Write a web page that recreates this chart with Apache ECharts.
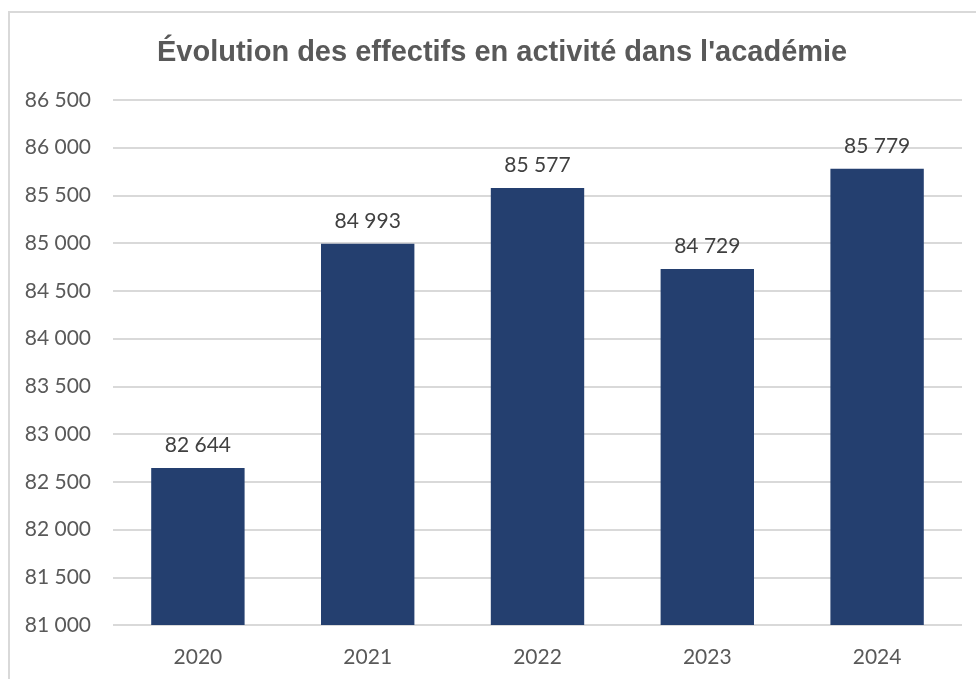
<!DOCTYPE html>
<html>
<head>
<meta charset="utf-8">
<script src="https://cdn.jsdelivr.net/npm/echarts@6/dist/echarts.min.js"></script>
<style>
  html, body { margin: 0; padding: 0; background: #fff; }
  #frame {
    position: absolute; left: 8px; top: 11px; width: 1000px; height: 700px;
    border: 2px solid #d9d9d9; box-sizing: border-box;
  }
  #chart { position: absolute; left: 0; top: 0; width: 976px; height: 679px; }
</style>
</head>
<body>
<div id="frame"></div>
<div id="chart"></div>
<script>
// années et effectifs
const categories = ['2020', '2021', '2022', '2023', '2024']
const effectifs = [82644, 84993, 85577, 84729, 85779]
const yMin = 81000
const yMax = 86500
const yStep = 500

// format "86 500"
function fmt(v) {
  return String(v).replace(/\B(?=(\d{3})+(?!\d))/g, ' ')
}

const labelFont = 'Lato, Carlito, sans-serif'

const myChart = echarts.init(document.getElementById('chart'))
const option = {
  animation: false,
  title: {
    text: "Évolution des effectifs en activité dans l'académie",
    left: 152,
    top: 33,
    textStyle: {
      fontFamily: 'Liberation Sans, Arial, sans-serif',
      fontSize: 29,
      fontWeight: 'bold',
      color: '#595959'
    }
  },
  grid: { left: 113, right: 14, top: 100, bottom: 54, containLabel: false },
  xAxis: {
    type: 'category',
    data: categories,
    axisLine: { show: false },
    axisTick: { show: false },
    axisLabel: {
      color: '#595959',
      fontSize: 21,
      fontFamily: labelFont,
      margin: 22
    }
  },
  yAxis: {
    type: 'value',
    min: yMin,
    max: yMax,
    interval: yStep,
    axisLine: { show: false },
    axisTick: { show: false },
    splitLine: { lineStyle: { color: '#d9d9d9', width: 2 } },
    axisLabel: {
      color: '#595959',
      fontSize: 21,
      fontFamily: labelFont,
      margin: 22,
      formatter: fmt
    }
  },
  series: [
    {
      type: 'bar',
      data: effectifs,
      barWidth: '55%',
      itemStyle: { color: '#243f6f' },
      label: {
        show: true,
        position: 'top',
        distance: 12,
        color: '#404040',
        fontSize: 21,
        fontFamily: labelFont,
        formatter: p => fmt(p.value)
      }
    }
  ]
}
myChart.setOption(option)
</script>
</body>
</html>
